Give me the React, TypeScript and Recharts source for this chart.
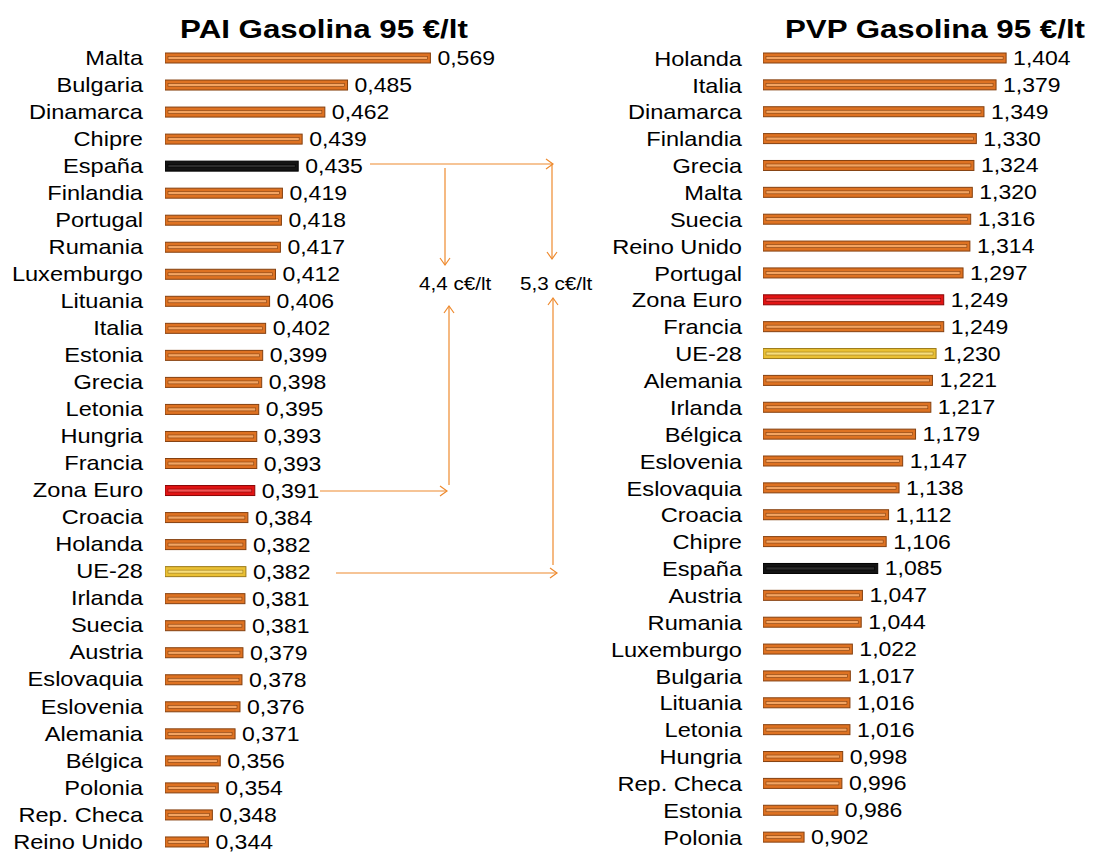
import { Bar, BarChart, LabelList, XAxis, YAxis } from "recharts";

const paiCountries = [
  "Malta", "Bulgaria", "Dinamarca", "Chipre", "España", "Finlandia", "Portugal",
  "Rumania", "Luxemburgo", "Lituania", "Italia", "Estonia", "Grecia", "Letonia",
  "Hungria", "Francia", "Zona Euro", "Croacia", "Holanda", "UE-28", "Irlanda",
  "Suecia", "Austria", "Eslovaquia", "Eslovenia", "Alemania", "Bélgica",
  "Polonia", "Rep. Checa", "Reino Unido",
];
const paiValues = [
  0.569, 0.485, 0.462, 0.439, 0.435, 0.419, 0.418, 0.417, 0.412, 0.406, 0.402,
  0.399, 0.398, 0.395, 0.393, 0.393, 0.391, 0.384, 0.382, 0.382, 0.381, 0.381,
  0.379, 0.378, 0.376, 0.371, 0.356, 0.354, 0.348, 0.344,
];

const pvpCountries = [
  "Holanda", "Italia", "Dinamarca", "Finlandia", "Grecia", "Malta", "Suecia",
  "Reino Unido", "Portugal", "Zona Euro", "Francia", "UE-28", "Alemania",
  "Irlanda", "Bélgica", "Eslovenia", "Eslovaquia", "Croacia", "Chipre", "España",
  "Austria", "Rumania", "Luxemburgo", "Bulgaria", "Lituania", "Letonia",
  "Hungria", "Rep. Checa", "Estonia", "Polonia",
];
const pvpValues = [
  1.404, 1.379, 1.349, 1.33, 1.324, 1.32, 1.316, 1.314, 1.297, 1.249, 1.249,
  1.23, 1.221, 1.217, 1.179, 1.147, 1.138, 1.112, 1.106, 1.085, 1.047, 1.044,
  1.022, 1.017, 1.016, 1.016, 0.998, 0.996, 0.986, 0.902,
];

const FONT = '"Liberation Sans", Arial, sans-serif';
const STRETCH = 1.18;
const ARROW = "#EE8A2E";

const PALETTE: Record<string, { base: string; dark: string; light: string }> = {
  orange: { base: "#DE7222", dark: "#844010", light: "#F3A462" },
  red: { base: "#E11414", dark: "#880606", light: "#F25252" },
  yellow: { base: "#EAC034", dark: "#9C7A1A", light: "#F7DE7C" },
  black: { base: "#141414", dark: "#000000", light: "#2c2c2c" },
};

function colorFor(name: string) {
  if (name === "España") return "black";
  if (name === "Zona Euro") return "red";
  if (name === "UE-28") return "yellow";
  return "orange";
}

const fmt = (v: number) => v.toFixed(3).replace(".", ",");

function GlassBar(props: any) {
  const { x, y, width, height, payload } = props;
  const c = PALETTE[colorFor(payload.name)];
  return (
    <g>
      <rect x={x} y={y} width={width} height={height} fill={c.base} stroke={c.dark} strokeWidth={1} />
      <rect
        x={x + 3}
        y={y + height / 2 - 1.5}
        width={Math.max(0, width - 6)}
        height={3}
        fill={c.light}
        stroke={c.dark}
        strokeWidth={0.6}
      />
    </g>
  );
}

function CountryTick(props: any) {
  const { x, y, payload } = props;
  return (
    <text
      transform={`translate(${x},${y}) scale(${STRETCH},1)`}
      textAnchor="end"
      dy="0.36em"
      fontSize={20}
      fontFamily={FONT}
      fill="#000"
    >
      {payload.value}
    </text>
  );
}

function ValueLabel(props: any) {
  const { x, y, width, height, value } = props;
  return (
    <text
      transform={`translate(${x + width + 7},${y + height / 2}) scale(${STRETCH},1)`}
      textAnchor="start"
      dy="0.36em"
      fontSize={19.5}
      fontFamily={FONT}
      fill="#000"
    >
      {fmt(value)}
    </text>
  );
}

function Panel({
  names,
  values,
  domain,
  width,
  height,
  axisWidth,
  margin,
  tickMargin,
}: {
  names: string[];
  values: number[];
  domain: [number, number];
  width: number;
  height: number;
  axisWidth: number;
  margin: { top: number; right: number; bottom: number; left: number };
  tickMargin: number;
}) {
  const data = names.map((name, i) => ({ name, value: values[i] }));
  return (
    <BarChart layout="vertical" width={width} height={height} data={data} margin={margin}>
      <XAxis type="number" domain={domain} hide allowDataOverflow />
      <YAxis
        type="category"
        dataKey="name"
        width={axisWidth}
        axisLine={false}
        tickLine={false}
        tickMargin={tickMargin}
        interval={0}
        tick={<CountryTick />}
      />
      <Bar dataKey="value" barSize={10} shape={<GlassBar />} isAnimationActive={false}>
        <LabelList dataKey="value" content={<ValueLabel />} />
      </Bar>
    </BarChart>
  );
}

function Title({ cx, y, text }: { cx: number; y: number; text: string }) {
  return (
    <text
      transform={`translate(${cx},${y}) scale(${STRETCH},1)`}
      textAnchor="middle"
      fontSize={26.5}
      fontWeight="bold"
      fontFamily={FONT}
      fill="#000"
    >
      {text}
    </text>
  );
}

function Arrow({ pts, dir }: { pts: [number, number][]; dir: "right" | "down" | "up" }) {
  const [ex, ey] = pts[pts.length - 1];
  const s = 7;
  const w = 5;
  const head =
    dir === "right"
      ? `${ex - s},${ey - w} ${ex},${ey} ${ex - s},${ey + w}`
      : dir === "down"
      ? `${ex - w},${ey - s} ${ex},${ey} ${ex + w},${ey - s}`
      : `${ex - w},${ey + s} ${ex},${ey} ${ex + w},${ey + s}`;
  return (
    <g fill="none" stroke={ARROW} strokeWidth={1.2}>
      <polyline points={pts.map((p) => p.join(",")).join(" ")} />
      <polyline points={head} />
    </g>
  );
}

function NoteText({ x, y, text }: { x: number; y: number; text: string }) {
  return (
    <text
      transform={`translate(${x},${y}) scale(${STRETCH},1)`}
      fontSize={17.5}
      fontFamily={FONT}
      fill="#000"
    >
      {text}
    </text>
  );
}

export default function App() {
  return (
    <div style={{ position: "absolute", left: 0, top: 0, width: 1098, height: 852, background: "#fff", overflow: "hidden" }}>
      <div style={{ position: "absolute", left: 0, top: 0 }}>
        <Panel
          names={paiCountries}
          values={paiValues}
          domain={[0.3, 0.6]}
          width={501}
          height={858}
          axisWidth={165}
          margin={{ top: 44, right: 40, bottom: 3, left: 0 }}
          tickMargin={16}
        />
      </div>
      <div style={{ position: "absolute", left: 600, top: 0 }}>
        <Panel
          names={pvpCountries}
          values={pvpValues}
          domain={[0.8, 1.6]}
          width={498}
          height={852}
          axisWidth={163}
          margin={{ top: 45, right: 13, bottom: 1, left: 0 }}
          tickMargin={15}
        />
      </div>
      <svg width={1098} height={852} style={{ position: "absolute", left: 0, top: 0, pointerEvents: "none" }}>
        <Title cx={324} y={38} text="PAI Gasolina 95 €/lt" />
        <Title cx={935} y={38} text="PVP Gasolina 95 €/lt" />
        <Arrow pts={[[370, 164], [553, 164]]} dir="right" />
        <Arrow pts={[[445, 168], [445, 265]]} dir="down" />
        <Arrow pts={[[552, 164], [552, 259]]} dir="down" />
        <Arrow pts={[[320, 491], [447, 491]]} dir="right" />
        <Arrow pts={[[449, 485], [449, 306]]} dir="up" />
        <Arrow pts={[[336, 573], [557, 573]]} dir="right" />
        <Arrow pts={[[553, 565], [553, 298]]} dir="up" />
        <NoteText x={419} y={290} text="4,4 c€/lt" />
        <NoteText x={520} y={290} text="5,3 c€/lt" />
      </svg>
    </div>
  );
}
